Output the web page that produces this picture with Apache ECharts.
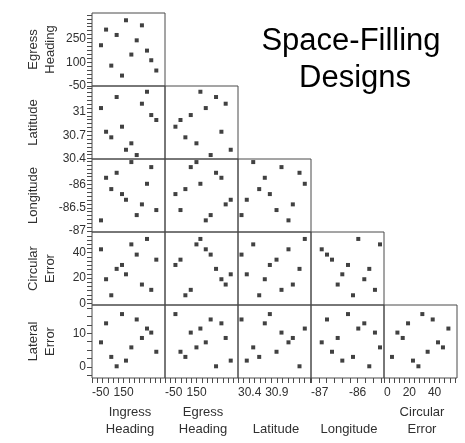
<!DOCTYPE html>
<html>
<head>
<meta charset="utf-8">
<script src="https://cdn.jsdelivr.net/npm/echarts@6/dist/echarts.min.js"></script>
<style>
  html, body { margin: 0; padding: 0; background: #fff; }
  #chart { width: 465px; height: 443px; }
</style>
</head>
<body>
<div id="chart"></div>
<script>
// Twelve runs of a space-filling design, one value per run in each factor.
const ingressHeading = [7, 39, 72, 106, 140, 165, 199, 233, 266, 298, 325, 357];
const egressHeading  = [208, 307, 79, 273, 16, 366, 149, 239, 334, 174, 113, 48];
const latitude       = [31.05, 30.745, 30.673, 31.192, 30.81, 30.513, 30.596, 30.445, 31.106, 31.26, 30.96, 30.896];
const longitude      = [-86.77, -85.856, -86.099, -85.749, -86.206, -86.328, -85.519, -86.657, -86.427, -85.985, -85.627, -86.549];
const circularError  = [42.7, 19.0, 6.3, 27.2, 30.3, 22.9, 46.6, 38.5, 14.8, 50.9, 10.6, 34.5];
const lateralError   = [7.3, 12.95, 2.97, 0.18, 15.7, 1.87, 5.8, 14.1, 8.6, 11.4, 10.2, 4.5];

// Tick labels (left axes per row, bottom axes per column)
const headingYLabels   = [-50, 100, 250];
const headingXLabels   = [-50, 150];
const latitudeYLabels  = [30.4, 30.7, 31];
const latitudeXLabels  = [30.4, 30.9];
const longitudeYLabels = [-87, -86.5, -86];
const longitudeXLabels = [-87, -86];
const circularYLabels  = [0, 20, 40];
const circularXLabels  = [0, 20, 40];
const lateralYLabels   = [0, 10];

const rowVars = ['egress', 'latitude', 'longitude', 'circular', 'lateral'];
const colVars = ['ingress', 'egress', 'latitude', 'longitude', 'circular'];
const rowTitles = [['Egress', 'Heading'], ['Latitude'], ['Longitude'], ['Circular', 'Error'], ['Lateral', 'Error']];
const colTitles = [['Ingress', 'Heading'], ['Egress', 'Heading'], ['Latitude'], ['Longitude'], ['Circular', 'Error']];

const valuesOf = {
  ingress: ingressHeading, egress: egressHeading, latitude: latitude,
  longitude: longitude, circular: circularError, lateral: lateralError
};

// Axis extents and tick spacing for the left (row) axes
const yScale = {
  egress:    { min: -50,    max: 412,     base: -50, step: 25,      labels: headingYLabels },
  latitude:  { min: 30.394, max: 31.334,  base: 30.4, step: 0.05,   labels: latitudeYLabels },
  longitude: { min: -87.02, max: -85.453, base: -87, step: 0.5 / 6, labels: longitudeYLabels },
  circular:  { min: -1.4,   max: 56.4,    base: 0,   step: 20 / 6,  labels: circularYLabels },
  lateral:   { min: -3.3,   max: 18.4,    base: 0,   step: 2.5,     labels: lateralYLabels }
};
// ...and for the bottom (column) axes
const xScale = {
  ingress:   { min: -50,  max: 412,     base: -50, step: 200 / 6, labels: headingXLabels },
  egress:    { min: -50,  max: 412,     base: -50, step: 200 / 6, labels: headingXLabels },
  latitude:  { min: 30.4, max: 31.34,   base: 30.4, step: 0.5 / 7, labels: latitudeXLabels },
  longitude: { min: -87,  max: -85.433, base: -87, step: 1 / 6,   labels: longitudeXLabels },
  circular:  { min: 0,    max: 57.7,    base: 0,   step: 4,       labels: circularXLabels }
};

function tickValues(s) {
  const out = [];
  let k = Math.ceil((s.min - s.base) / s.step - 1e-9);
  for (;; k++) {
    const v = s.base + k * s.step;
    if (v > s.max + 1e-9) break;
    out.push(+v.toFixed(6));
  }
  return out;
}

const FONT = 'Liberation Sans, Arial, sans-serif';
const TEXT = '#303030';
const LINE = '#4a4a4a';
const LEFT = 92, TOP = 13, CELL = 73;

const grids = [], xAxes = [], yAxes = [], series = [], graphic = [];

rowVars.forEach(function (rv, r) {
  colVars.forEach(function (cv, c) {
    if (c > r) return;
    const idx = grids.length;
    grids.push({
      left: LEFT + CELL * c, top: TOP + CELL * r, width: CELL, height: CELL,
      show: true, borderColor: LINE, borderWidth: 1, backgroundColor: 'transparent',
      containLabel: false, outerBoundsMode: 'none'
    });
    const xs = xScale[cv], ys = yScale[rv];
    const bottom = r === rowVars.length - 1;
    const first = c === 0;
    xAxes.push({
      gridIndex: idx, type: 'value', position: 'bottom', min: xs.min, max: xs.max,
      axisLine: { show: false, onZero: false },
      splitLine: { show: false },
      axisTick: { show: bottom, customValues: tickValues(xs), length: 5, lineStyle: { color: LINE, width: 1 } },
      axisLabel: {
        show: bottom, customValues: xs.labels, margin: 9, alignMinLabel: 'left',
        fontSize: 12, fontFamily: FONT, color: TEXT, formatter: function (v) { return String(v); }
      }
    });
    yAxes.push({
      gridIndex: idx, type: 'value', position: 'left', min: ys.min, max: ys.max,
      axisLine: { show: false, onZero: false },
      splitLine: { show: false },
      axisTick: { show: first, customValues: tickValues(ys), length: 5, lineStyle: { color: LINE, width: 1 } },
      axisLabel: {
        show: first, customValues: ys.labels, margin: 6,
        fontSize: 12, fontFamily: FONT, color: TEXT, formatter: function (v) { return String(v); }
      }
    });
    const xv = valuesOf[cv], yv = valuesOf[rv];
    series.push({
      type: 'scatter', xAxisIndex: idx, yAxisIndex: idx, silent: true,
      symbol: 'rect', symbolSize: 4, itemStyle: { color: '#111' },
      data: xv.map(function (x, i) { return [x, yv[i]]; })
    });
  });
});

// Row titles, rotated, to the left of the tick labels
rowTitles.forEach(function (lines, r) {
  lines.forEach(function (t, k) {
    graphic.push({
      type: 'text', x: 33 + 17.5 * k, y: TOP + CELL * r + CELL / 2, rotation: Math.PI / 2,
      style: { text: t, align: 'center', verticalAlign: 'middle', font: '13px ' + FONT, fill: TEXT }
    });
  });
});
// Column titles, bottom-aligned under the tick labels
colTitles.forEach(function (lines, c) {
  lines.forEach(function (t, k) {
    const fromBottom = lines.length - 1 - k;
    graphic.push({
      type: 'text', x: LEFT + CELL * c + CELL / 2 + 1.5, y: 429.7 - 17.4 * fromBottom,
      style: { text: t, align: 'center', verticalAlign: 'middle', font: '13px ' + FONT, fill: TEXT }
    });
  });
});
// Heading text in the empty upper-right area
graphic.push({
  type: 'text', x: 351, y: 41.5,
  style: { text: 'Space-Filling', align: 'center', verticalAlign: 'middle', font: '31px ' + FONT, fill: '#000' }
});
graphic.push({
  type: 'text', x: 355, y: 78,
  style: { text: 'Designs', align: 'center', verticalAlign: 'middle', font: '31px ' + FONT, fill: '#000' }
});

const chart = echarts.init(document.getElementById('chart'), null, { renderer: 'canvas' });
chart.setOption({
  animation: false,
  backgroundColor: '#fff',
  grid: grids,
  xAxis: xAxes,
  yAxis: yAxes,
  series: series,
  graphic: graphic
});
</script>
</body>
</html>
